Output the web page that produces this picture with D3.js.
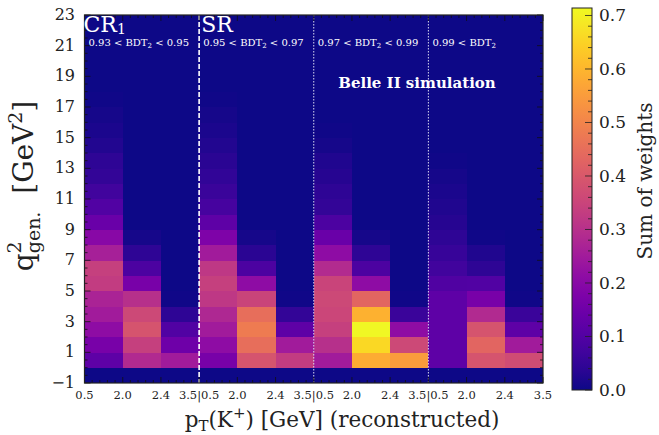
<!DOCTYPE html>
<html>
<head>
<meta charset="utf-8">
<script src="https://cdn.jsdelivr.net/npm/d3@7/dist/d3.min.js"></script>
<style>
body { margin: 0; background: #fff; }
text { font-family: "DejaVu Serif", serif; }
</style>
</head>
<body>
<svg id="main"></svg>
<script>
// regions along x, each split into the same 3 pT bins
var regions = ["CR", "SR", "", ""];
var regionSub = ["1", "", "", ""];
var bdtLow = ["0.93", "0.95", "0.97", "0.99"];
var bdtHigh = ["0.95", "0.97", "0.99", null];
var ptTicks = ["0.5", "2.0", "2.4", "3.5"];
var qTicks = [-1, 1, 3, 5, 7, 9, 11, 13, 15, 17, 19, 21, 23];
var cbTicks = [0.0, 0.1, 0.2, 0.3, 0.4, 0.5, 0.6, 0.7];

// sum of weights, q2 bins of width 1 starting at -1 (24 bins), one list per pT bin
var wCR1 = [
	[0, .12, .17, .21, .25, .27, .33, .34, .26, .20, .14, .10, .07, .05, .04, .025, .015, .01, .005, 0, 0, 0, 0, 0],
	[0, .285, .34, .39, .36, .30, .17, .09, .04, .01, 0, 0, 0, 0, 0, 0, 0, 0, 0, 0, 0, 0, 0, 0],
	[0, .25, .15, .10, .04, .005, 0, 0, 0, 0, 0, 0, 0, 0, 0, 0, 0, 0, 0, 0, 0, 0, 0, 0]
];
var wSR = [
	[0, .17, .21, .25, .28, .32, .34, .32, .25, .18, .12, .08, .06, .045, .035, .025, .015, .01, .005, 0, 0, 0, 0, 0],
	[0, .39, .45, .48, .45, .35, .21, .09, .035, .01, 0, 0, 0, 0, 0, 0, 0, 0, 0, 0, 0, 0, 0, 0],
	[0, .33, .25, .12, .05, .005, 0, 0, 0, 0, 0, 0, 0, 0, 0, 0, 0, 0, 0, 0, 0, 0, 0, 0]
];
var wR3 = [
	[0, .25, .30, .34, .355, .36, .35, .29, .21, .14, .09, .05, .04, .03, .02, .01, .005, 0, 0, 0, 0, 0, 0, 0],
	[0, .58, .66, .71, .59, .43, .21, .09, .04, .01, 0, 0, 0, 0, 0, 0, 0, 0, 0, 0, 0, 0, 0, 0],
	[0, .55, .36, .21, .06, .005, 0, 0, 0, 0, 0, 0, 0, 0, 0, 0, 0, 0, 0, 0, 0, 0, 0, 0]
];
var wR4 = [
	[0, .12, .12, .12, .12, .12, .095, .07, .055, .04, .03, .02, .015, .01, .005, 0, 0, 0, 0, 0, 0, 0, 0, 0],
	[0, .39, .43, .39, .285, .17, .10, .04, .02, .005, 0, 0, 0, 0, 0, 0, 0, 0, 0, 0, 0, 0, 0, 0],
	[0, .37, .25, .12, .06, .005, 0, 0, 0, 0, 0, 0, 0, 0, 0, 0, 0, 0, 0, 0, 0, 0, 0, 0]
];
var weights = [wCR1, wSR, wR3, wR4];

// layout
var W = 659, H = 435;
var pL = 84.5, pR = 543, pT = 15, pB = 383;
var cbL = 572, cbR = 592, cbT = 8, cbB = 390;

var s = d3.select("#main").attr("width", W).attr("height", H);

var nBin = ptTicks.length - 1;
var nCol = regions.length * nBin;
var x = d3.scaleLinear().domain([0, nCol]).range([pL, pR]);
var y = d3.scaleLinear().domain([-1, 23]).range([pB, pT]);
var cmax = 0.714;
var color = d3.scaleSequential(d3.interpolatePlasma).domain([0, cmax]);
var cy = d3.scaleLinear().domain([0, cmax]).range([cbB, cbT]);

var cells = [];
weights.forEach(function(reg, r) {
	reg.forEach(function(col, c) {
		col.forEach(function(v, k) {
			cells.push({ col: r * nBin + c, lo: k - 1, v: v });
		});
	});
});

s.append("g").selectAll("rect")
	.data(cells).enter()
	.append("rect")
	.attr("x", function(d) { return x(d.col); })
	.attr("width", x(1) - x(0) + 0.4)
	.attr("y", function(d) { return y(d.lo + 1); })
	.attr("height", y(0) - y(1) + 0.4)
	.attr("fill", function(d) { return color(d.v); })
	.attr("shape-rendering", "crispEdges");

// region separators
var sep = s.append("g");
[1, 2, 3].forEach(function(r) {
	sep.append("line")
		.attr("x1", x(r * nBin)).attr("x2", x(r * nBin))
		.attr("y1", pT).attr("y2", pB)
		.attr("stroke", r == 1 ? "#ffffff" : "#d8d8f0")
		.attr("stroke-width", r == 1 ? 1.6 : 1)
		.attr("stroke-dasharray", r == 1 ? "5,2" : "1.5,1.5");
});

// ticks, inward on all four sides
var tk = s.append("g").attr("stroke", "#111").attr("stroke-width", 0.8);
d3.range(-1, 23.01, 0.5).forEach(function(v) {
	var len = (Math.abs(v) % 2 == 1) ? 6 : 3;
	tk.append("line").attr("x1", pL).attr("x2", pL + len).attr("y1", y(v)).attr("y2", y(v));
	tk.append("line").attr("x1", pR).attr("x2", pR - len).attr("y1", y(v)).attr("y2", y(v));
});
d3.range(0, nCol + 0.01, 0.2).forEach(function(v) {
	var len = Math.abs(v - Math.round(v)) < 0.01 ? 6 : 3;
	tk.append("line").attr("x1", x(v)).attr("x2", x(v)).attr("y1", pB).attr("y2", pB - len);
	tk.append("line").attr("x1", x(v)).attr("x2", x(v)).attr("y1", pT).attr("y2", pT + len);
});

s.append("rect")
	.attr("x", pL).attr("y", pT)
	.attr("width", pR - pL).attr("height", pB - pT)
	.attr("fill", "none").attr("stroke", "#222").attr("stroke-width", 1.2);

// y tick labels
s.append("g").selectAll("text")
	.data(qTicks).enter()
	.append("text")
	.attr("x", 75)
	.attr("y", function(d) { return y(d) + 5; })
	.attr("text-anchor", "end")
	.style("font-size", "16px")
	.attr("fill", "#222")
	.text(function(d) { return d < 0 ? "\u2212" + (-d) : d; });

// x tick labels at every bin edge; at region joins the two edges share "3.5|0.5"
var xTick = [];
d3.range(0, nCol + 1).forEach(function(e) {
	var r = Math.floor(e / nBin), i = e % nBin;
	var lbl;
	if (e == nCol) lbl = ptTicks[nBin];
	else if (i == 0 && r > 0) lbl = ptTicks[nBin] + "|" + ptTicks[0];
	else lbl = ptTicks[i];
	xTick.push({ e: e, t: lbl });
});
s.append("g").selectAll("text")
	.data(xTick).enter()
	.append("text")
	.attr("x", function(d) { return x(d.e); })
	.attr("y", 399)
	.attr("text-anchor", "middle")
	.style("font-size", "11.5px").attr("fill", "#222")
	.text(function(d) { return d.t; });

// region names and BDT windows
var lab = s.append("g").attr("fill", "#fff");
regions.forEach(function(reg, r) {
	var x0 = x(r * nBin);
	if (reg) {
		var t = lab.append("text").attr("x", x0 + (r == 0 ? -1 : 2)).attr("y", 32).style("font-size", "22px");
		t.append("tspan").text(reg);
		if (regionSub[r]) t.append("tspan").attr("dy", 1.5).style("font-size", "14px").text(regionSub[r]);
	}
	var b = lab.append("text").attr("x", x0 + 4).attr("y", 45.5).style("font-size", "10px");
	b.append("tspan").text(bdtLow[r] + " < BDT");
	b.append("tspan").attr("dy", 2.5).style("font-size", "7px").text("2");
	if (bdtHigh[r]) b.append("tspan").attr("dy", -2.5).text(" < " + bdtHigh[r]);
});

lab.append("text")
	.attr("x", 417).attr("y", 88)
	.attr("text-anchor", "middle")
	.style("font-size", "15px").style("font-weight", "bold")
	.text("Belle II simulation");

// axis titles
var xt = s.append("text")
	.attr("x", 342).attr("y", 427)
	.attr("text-anchor", "middle")
	.style("font-size", "21.5px").attr("fill", "#222");
xt.append("tspan").text("p");
xt.append("tspan").attr("dy", 4).style("font-size", "15px").text("T");
xt.append("tspan").attr("dy", -4).text("(K");
xt.append("tspan").attr("dy", -9).style("font-size", "15px").text("+");
xt.append("tspan").attr("dy", 9).text(") [GeV] (reconstructed)");

var yt = s.append("text")
	.attr("transform", "translate(33,186) rotate(-90)")
	.attr("text-anchor", "middle")
	.attr("xml:space", "preserve")
	.style("white-space", "pre")
	.style("font-size", "28px").attr("fill", "#222");
yt.append("tspan").text("q");
yt.append("tspan").attr("dy", -12).style("font-size", "19px").text("2");
yt.append("tspan").attr("dx", -12).attr("dy", 19).style("font-size", "19px").text("gen.");
yt.append("tspan").attr("dy", -7).text("  [GeV");
yt.append("tspan").attr("dy", -11).style("font-size", "19px").text("2");
yt.append("tspan").attr("dy", 11).text("]");

// colour bar
var defs = s.append("defs");
var grad = defs.append("linearGradient").attr("id", "cbg")
	.attr("x1", 0).attr("y1", 1).attr("x2", 0).attr("y2", 0);
d3.range(0, 1.001, 0.05).forEach(function(t) {
	grad.append("stop").attr("offset", t).attr("stop-color", d3.interpolatePlasma(t));
});
s.append("rect")
	.attr("x", cbL).attr("y", cbT)
	.attr("width", cbR - cbL).attr("height", cbB - cbT)
	.attr("fill", "url(#cbg)").attr("stroke", "#222").attr("stroke-width", 1);

var cbt = s.append("g").attr("stroke", "#222").attr("stroke-width", 0.8);
d3.range(0, 0.7001, 0.02).forEach(function(v) {
	var len = Math.abs(v * 10 - Math.round(v * 10)) < 0.01 ? 7 : 4;
	cbt.append("line").attr("x1", cbR).attr("x2", cbR - len).attr("y1", cy(v)).attr("y2", cy(v));
});
s.append("g").selectAll("text")
	.data(cbTicks).enter()
	.append("text")
	.attr("x", 599)
	.attr("y", function(d) { return cy(d) + 6; })
	.style("font-size", "17px").attr("fill", "#222")
	.text(function(d) { return d.toFixed(1); });

s.append("text")
	.attr("transform", "translate(652,181) rotate(-90)")
	.attr("text-anchor", "middle")
	.style("font-size", "20px").attr("fill", "#222")
	.text("Sum of weights");
</script>
</body>
</html>
